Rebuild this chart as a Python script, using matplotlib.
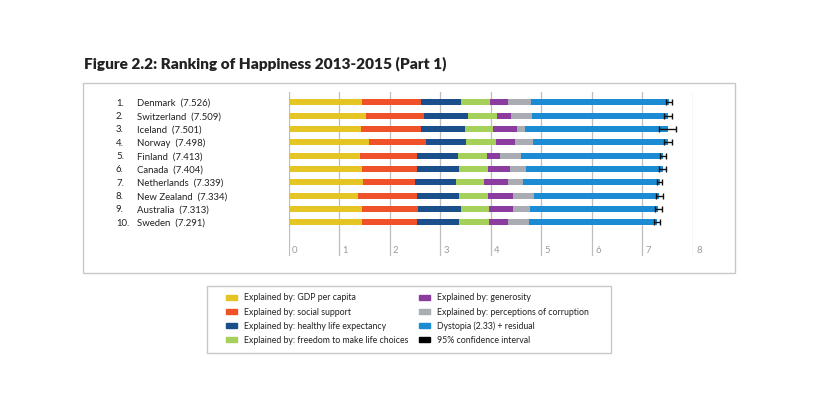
import matplotlib.pyplot as plt
from matplotlib.patches import Rectangle

plt.rcParams["font.family"] = ["Lato", "DejaVu Sans"]

# --- dados ---
paises = ["Denmark", "Switzerland", "Iceland", "Norway", "Finland",
          "Canada", "Netherlands", "New Zealand", "Australia", "Sweden"]
notas = [7.526, 7.509, 7.501, 7.498, 7.413, 7.404, 7.339, 7.334, 7.313, 7.291]
ic_inferior = [7.460, 7.428, 7.333, 7.421, 7.351, 7.335, 7.284, 7.264, 7.241, 7.227]
ic_superior = [7.592, 7.590, 7.669, 7.575, 7.475, 7.473, 7.394, 7.404, 7.385, 7.355]

pib = [1.442, 1.527, 1.427, 1.577, 1.406, 1.440, 1.465, 1.361, 1.444, 1.452]
apoio_social = [1.164, 1.145, 1.183, 1.127, 1.135, 1.096, 1.029, 1.173, 1.105, 1.088]
expectativa_vida = [0.795, 0.863, 0.867, 0.796, 0.811, 0.828, 0.812, 0.831, 0.851, 0.831]
liberdade = [0.579, 0.586, 0.566, 0.596, 0.571, 0.574, 0.552, 0.581, 0.568, 0.582]
generosidade = [0.362, 0.281, 0.477, 0.379, 0.255, 0.448, 0.474, 0.494, 0.474, 0.383]
corrupcao = [0.445, 0.412, 0.150, 0.358, 0.410, 0.313, 0.299, 0.419, 0.323, 0.409]
distopia = [2.739, 2.695, 2.831, 2.665, 2.826, 2.705, 2.707, 2.476, 2.547, 2.547]

componentes = [
    ("Explained by: GDP per capita", pib, "#e5c523"),
    ("Explained by: social support", apoio_social, "#ef5128"),
    ("Explained by: healthy life expectancy", expectativa_vida, "#1a4f8b"),
    ("Explained by: freedom to make life choices", liberdade, "#a5d05a"),
    ("Explained by: generosity", generosidade, "#8b3c9e"),
    ("Explained by: perceptions of corruption", corrupcao, "#a9adb3"),
    ("Dystopia (2.33) + residual", distopia, "#1b8bd3"),
]

W, H = 820, 410
fig = plt.figure(figsize=(8.2, 4.1), dpi=100)
fig.patch.set_facecolor("white")


def px(x, y):
    return x / W, 1 - y / H


# título
fig.text(*px(84, 68), "Figure 2.2: Ranking of Happiness 2013-2015 (Part 1)",
         fontsize=11.1, fontweight="heavy", color="#222222", va="baseline")

# caixas
fig.patches.append(Rectangle(px(83, 274), 652 / W, 190 / H, transform=fig.transFigure,
                             fill=False, edgecolor="#c8c8c8", lw=1))
fig.patches.append(Rectangle(px(207, 354), 404 / W, 67 / H, transform=fig.transFigure,
                             fill=False, edgecolor="#c8c8c8", lw=1))

# eixo das barras: x=0 em 289px, x=8 em 693px; linhas em 103..223px
y_top, y_bot = 93, 257
ax = fig.add_axes([289 / W, 1 - y_bot / H, (693 - 289) / W, (y_bot - y_top) / H])
passo = 13.33
ax.set_xlim(0, 8)
ax.set_ylim(9 + (y_bot - 223.3) / passo, -(103.3 - y_top) / passo)
ax.axis("off")

for t in range(9):
    ax.axvline(t, color="#bdbdbd", lw=0.9, zorder=0)
    ax.text(t + 0.06, 11.05, str(t), fontsize=6.8, color="#9a9a9a", va="center")

pos = list(range(len(paises)))
base = [0.0] * len(paises)
for nome, vals, cor in componentes:
    ax.barh(pos, vals, left=base, height=0.45, color=cor, zorder=2)
    base = [b + v for b, v in zip(base, vals)]

erro = [[n - lo for n, lo in zip(notas, ic_inferior)],
        [hi - n for n, hi in zip(notas, ic_superior)]]
ax.errorbar(notas, pos, xerr=erro, fmt="none", ecolor="#111111",
            elinewidth=1, capsize=2, capthick=1, zorder=3)

# rótulos dos países
for i, (p, n) in enumerate(zip(paises, notas)):
    y = 1 - (103.3 + i * passo) / H
    fig.text(116 / W, y, f"{i + 1}.", fontsize=6.9, color="#222222", va="center")
    fig.text(137 / W, y, f"{p}  ({n:.3f})", fontsize=6.9, color="#222222", va="center")

# legenda
itens = [(nome, cor) for nome, _, cor in componentes] + [("95% confidence interval", "#000000")]
for k, (nome, cor) in enumerate(itens):
    col, lin = divmod(k, 4)
    x0 = 226 if col == 0 else 419
    y0 = 298 + lin * 14.1
    fig.patches.append(Rectangle(px(x0, y0 + 2.5), 11 / W, 5 / H, transform=fig.transFigure,
                                 color=cor))
    fig.text((x0 + 18) / W, 1 - y0 / H, nome, fontsize=6.35, color="#222222", va="center")

plt.savefig("out.png", dpi=100)
plt.close()
